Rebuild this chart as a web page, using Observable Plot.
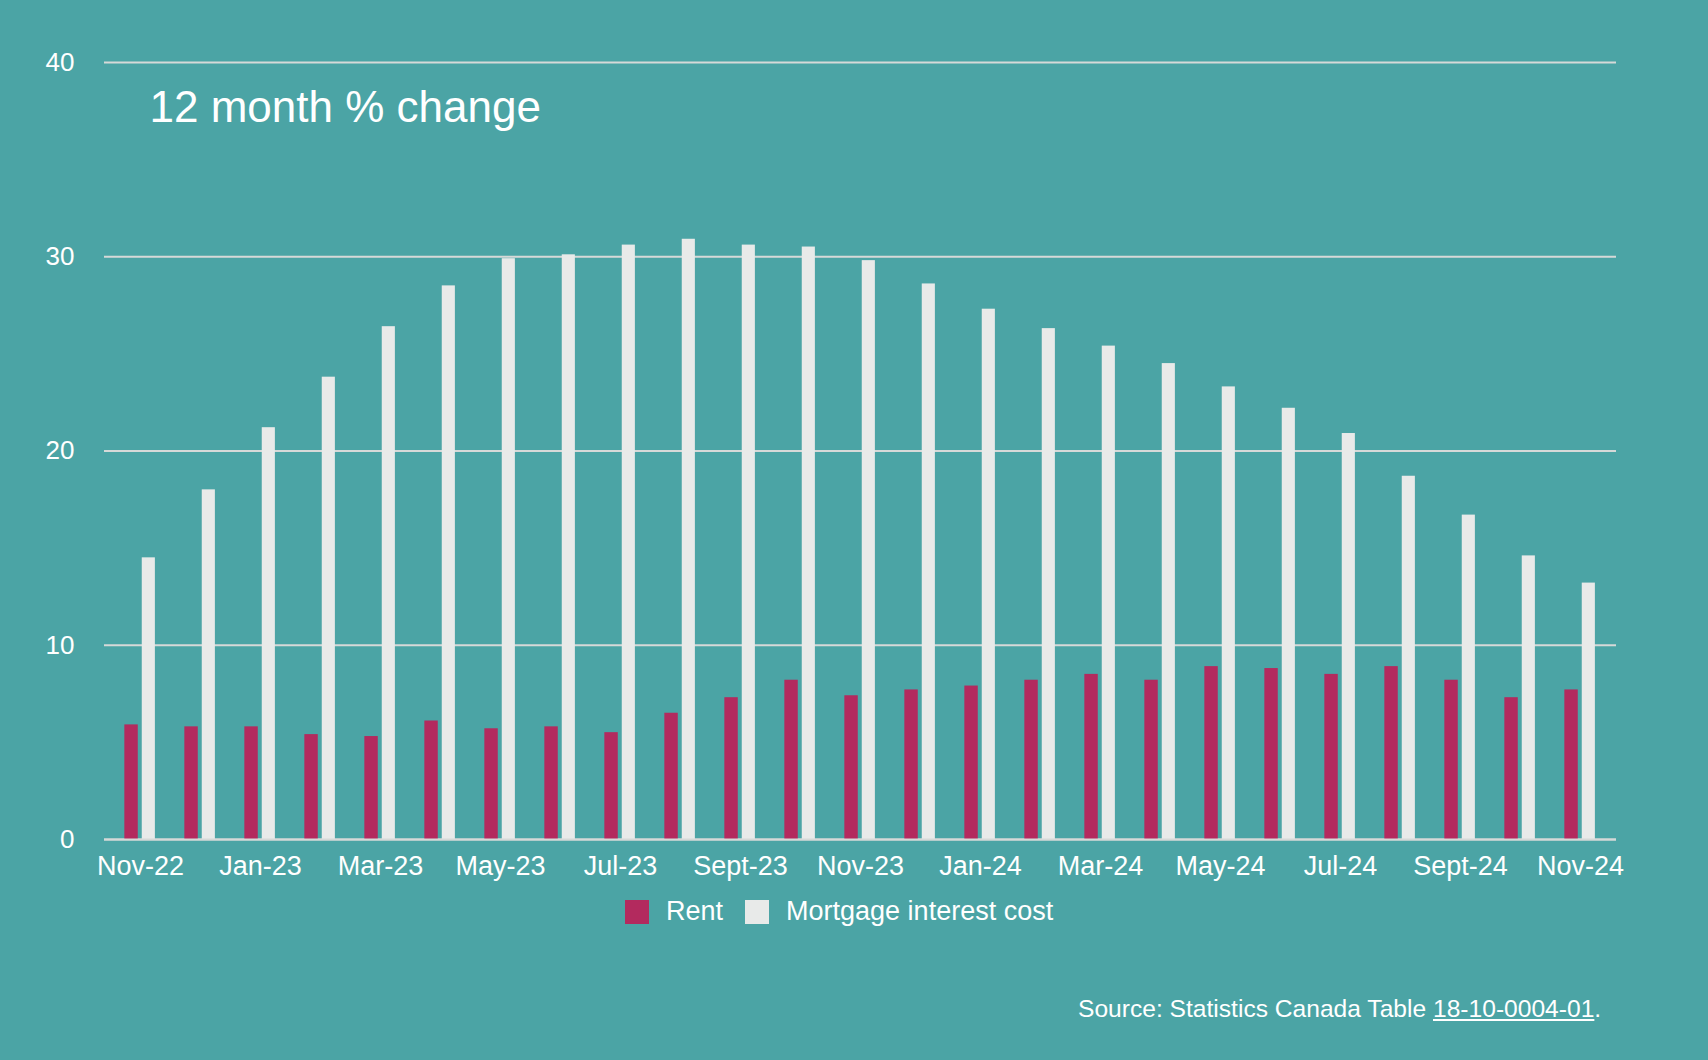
<!DOCTYPE html>
<html>
<head>
<meta charset="utf-8">
<script src="https://cdn.jsdelivr.net/npm/d3@7"></script>
<script src="https://cdn.jsdelivr.net/npm/@observablehq/plot@0.6"></script>
<style>
  html, body { margin: 0; padding: 0; background: #4BA4A5; }
  body { width: 1708px; height: 1060px; position: relative; overflow: hidden; font-family: "Liberation Sans", Arial, sans-serif; color: #fff; }
  #chart { position: absolute; left: 0; top: 0; }
  #legend { position: absolute; left: 625px; top: 895px; }
  .lg-swatch { margin-right: 22px !important; font-size: 27px; color: #fff; }
  .lg-swatch > svg { margin-right: 17px !important; }
  #source { position: absolute; left: 1078px; top: 996px; font-size: 24.6px; line-height: 26px; white-space: nowrap; }
  #source a { color: #fff; text-decoration: underline; }
</style>
</head>
<body>
<div id="chart"></div>
<div id="legend"></div>
<div id="source">Source: Statistics Canada Table <a>18-10-0004-01</a>.</div>
<script>
const months = ["Nov-22","Dec-22","Jan-23","Feb-23","Mar-23","Apr-23","May-23","Jun-23","Jul-23","Aug-23","Sept-23","Oct-23","Nov-23","Dec-23","Jan-24","Feb-24","Mar-24","Apr-24","May-24","Jun-24","Jul-24","Aug-24","Sept-24","Oct-24","Nov-24"];
const rent = [5.9,5.8,5.8,5.4,5.3,6.1,5.7,5.8,5.5,6.5,7.3,8.2,7.4,7.7,7.9,8.2,8.5,8.2,8.9,8.8,8.5,8.9,8.2,7.3,7.7];
const mortgage = [14.5,18.0,21.2,23.8,26.4,28.5,29.9,30.1,30.6,30.9,30.6,30.5,29.8,28.6,27.3,26.3,25.4,24.5,23.3,22.2,20.9,18.7,16.7,14.6,13.2];
const xTickLabels = ["Nov-22","Jan-23","Mar-23","May-23","Jul-23","Sept-23","Nov-23","Jan-24","Mar-24","May-24","Jul-24","Sept-24","Nov-24"];
const yTicks = [0,10,20,30,40];
const seriesNames = ["Rent","Mortgage interest cost"];
const seriesColors = ["#B32A5E","#E8EAE9"];
const title = "12 month % change";

const data = months.map((m, i) => ({month: m, rent: rent[i], mortgage: mortgage[i]}));

const W = 1708, H = 900;
const mL = 104, mR = 92, mT = 62, mB = 61;
const step = (W - mL - mR) / months.length;
const gridColor = "#D6D9D8";
const font = '"Liberation Sans", Arial, sans-serif';

const chart = Plot.plot({
  width: W, height: H,
  marginLeft: mL, marginRight: mR, marginTop: mT, marginBottom: mB,
  style: {background: "transparent", color: "#fff", fontFamily: font, fontSize: "26px", overflow: "visible"},
  x: {domain: months, padding: 0, label: null},
  y: {domain: [0, 40], label: null},
  marks: [
    Plot.ruleY(yTicks, {stroke: gridColor, strokeWidth: 2}),
    Plot.barY(data, {x: "month", y: "rent", fill: seriesColors[0], insetLeft: 0.237 * step, insetRight: 0.533 * step}),
    Plot.barY(data, {x: "month", y: "mortgage", fill: seriesColors[1], insetLeft: 0.525 * step, insetRight: 0.25 * step}),
    Plot.ruleY([0], {stroke: gridColor, strokeWidth: 2}),
    Plot.axisY({ticks: yTicks, tickSize: 0, tickPadding: 30, label: null, fontSize: 26, fill: "#fff"}),
    Plot.axisX({ticks: xTickLabels, tickSize: 0, tickPadding: 16, label: null, fontSize: 27, fill: "#fff"}),
    Plot.text([title], {frameAnchor: "top-left", dx: 45, dy: 28, text: d => d, fontSize: 44, fill: "#fff", textAnchor: "start", fontFamily: font})
  ]
});
document.getElementById("chart").appendChild(chart);

const legend = Plot.legend({
  color: {type: "ordinal", domain: seriesNames, range: seriesColors},
  swatchSize: 24,
  className: "lg",
  style: {background: "transparent", color: "#fff", fontFamily: font, fontSize: "27px"}
});
document.getElementById("legend").appendChild(legend);
</script>
</body>
</html>
